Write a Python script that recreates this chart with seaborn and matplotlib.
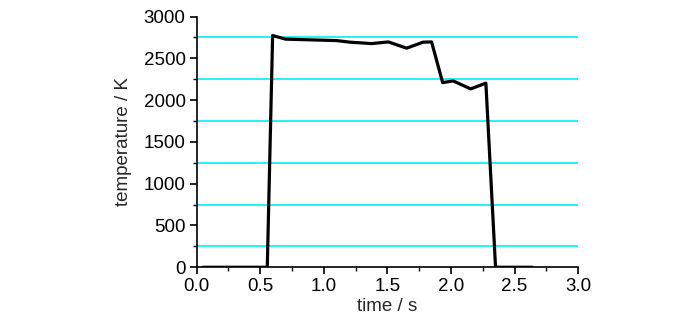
import matplotlib
matplotlib.use("Agg")
import matplotlib.pyplot as plt
import seaborn as sns
import pandas as pd
from matplotlib.ticker import MultipleLocator

time_s = [0.05, 0.555, 0.597, 0.70, 1.10, 1.205, 1.376, 1.507, 1.651, 1.78, 1.847,
          1.934, 2.017, 2.154, 2.274, 2.35, 2.64]
temperature_K = [0, 0, 2773, 2730, 2713, 2694, 2677, 2697, 2622, 2694, 2697,
                 2210, 2230, 2135, 2203, 0, 0]
grid_levels = [250, 750, 1250, 1750, 2250, 2750]
x_ticks = [0.0, 0.5, 1.0, 1.5, 2.0, 2.5, 3.0]
y_ticks = [0, 500, 1000, 1500, 2000, 2500, 3000]

sns.set_style("ticks")
plt.rcParams['font.family'] = ['Liberation Sans', 'DejaVu Sans']

fig = plt.figure(figsize=(7.0, 3.32), dpi=100)
ax = fig.add_axes([0.281, 0.195, 0.545, 0.755])

for g in grid_levels:
    ax.axhline(g, color="#22f2f2", lw=1.4, zorder=1)

df = pd.DataFrame({"time": time_s, "temp": temperature_K})
sns.lineplot(data=df, x="time", y="temp", color="black", lw=2.3, ax=ax,
             sort=False, estimator=None, zorder=3)

ax.set_xlim(0, 3.0)
ax.set_ylim(0, 3000)
ax.set_xticks(x_ticks)
ax.set_xticklabels([f"{v:.1f}" for v in x_ticks])
ax.set_yticks(y_ticks)
ax.set_yticklabels([str(v) for v in y_ticks])
ax.xaxis.set_minor_locator(MultipleLocator(0.25))
ax.yaxis.set_minor_locator(MultipleLocator(250))
ax.tick_params(which="major", direction="out", length=5, width=1.2, labelsize=13.5, colors="black", pad=3)
ax.tick_params(which="minor", direction="out", length=3, width=1.0, colors="black")
for side in ["top", "right"]:
    ax.spines[side].set_visible(False)
for side in ["left", "bottom"]:
    ax.spines[side].set_linewidth(1.2)
    ax.spines[side].set_color("black")
ax.set_xlabel("time / s", fontsize=13.5, labelpad=2)
ax.set_ylabel("temperature / K", fontsize=13.5, labelpad=8)

fig.savefig("out.png", dpi=100)
